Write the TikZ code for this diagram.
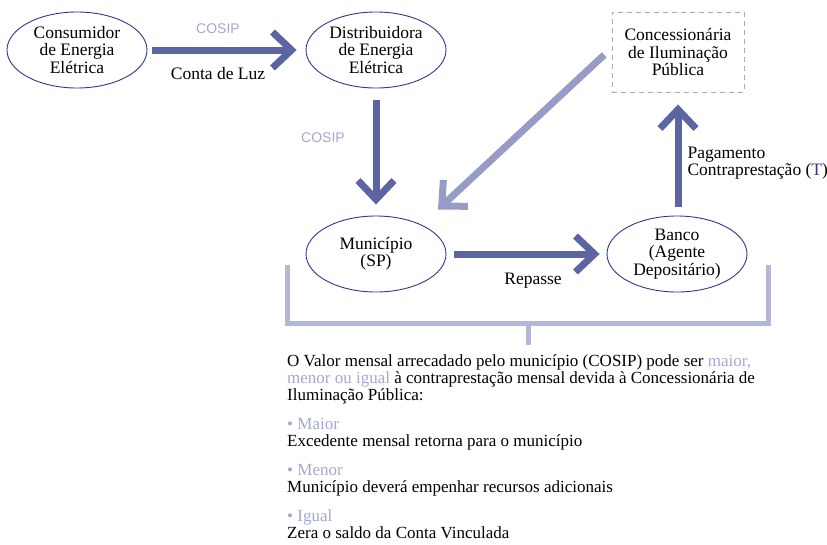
\documentclass[tikz,border=0pt]{standalone}
\usepackage{fontspec}
\setmainfont{Liberation Serif}
\setsansfont{Liberation Sans}
\usepackage{tikz}
\usetikzlibrary{shapes.geometric, arrows.meta, positioning}
\definecolor{darkarrow}{HTML}{5C64A2}
\definecolor{lightarrow}{HTML}{969CC5}
\definecolor{bracketcol}{HTML}{B4B7DA}
\definecolor{lighttext}{HTML}{A3A8D1}
\definecolor{navyline}{HTML}{2B3990}

\begin{document}
\begin{tikzpicture}[
    x=1pt, y=-1pt,
    every node/.style={font=\fontsize{17.5}{17.5}\selectfont},
    agent/.style={ellipse, draw=navyline, line width=0.9pt, minimum width=140pt, minimum height=76pt, inner sep=0pt, align=center},
    dashbox/.style={rectangle, draw=lighttext, line width=0.9pt, dash pattern=on 5pt off 4pt, minimum width=132pt, minimum height=80pt, align=center},
    fatarrow/.style={line width=7pt, draw=darkarrow, -{Straight Barb[length=19pt, width=36pt, line join=miter]}},
    lightfat/.style={fatarrow, draw=lightarrow},
    cosip/.style={font=\sffamily\fontsize{14}{16}\selectfont, text=lighttext},
    bracket/.style={line width=5pt, draw=bracketcol}
]
\useasboundingbox (0,0) rectangle (827,544);

\node (cons) [agent] at (77,50) {Consumidor\\de Energia\\Elétrica};
\node (dist) [agent] at (376,50) {Distribuidora\\de Energia\\Elétrica};
\node (conc) [dashbox] at (678,52) {Concessionária\\de Iluminação\\Pública};
\node (muni) [agent] at (376,254) {Município\\(SP)};
\node (banco) [agent] at (677,254) {Banco\\(Agente\\Depositário)};

\draw [fatarrow, shorten <=5pt, shorten >=9pt] (cons.east) -- (dist.west);
\node [cosip] at (218,29) {COSIP};
\node at (218,74) {Conta de Luz};

\draw [fatarrow, shorten <=12pt, shorten >=11pt] (dist.south) -- (muni.north);
\node [cosip] at (323,138) {COSIP};

\draw [lightfat, shorten <=10pt] ([yshift=4pt]conc.west) -- ([xshift=62pt, yshift=6pt]muni.north);

\draw [fatarrow, shorten <=8pt, shorten >=7pt] (muni.east) -- (banco.west);
\node at (533,281) {Repasse};

\draw [fatarrow, shorten <=9pt, shorten >=12pt] ([xshift=1pt]banco.north) -- (conc.south);
\node [anchor=west, align=left] at (684,163) {Pagamento\\Contraprestação ({\color{navyline}T})};

\draw [bracket] (287,265) -- (287,323) -- (768,323) -- (768,265);
\draw [bracket] (528,323) -- (528,345);

\node (info) [anchor=north west, align=left, inner sep=0pt, font=\fontsize{17}{17}\selectfont] at (287,354) {%
O Valor mensal arrecadado pelo município (COSIP) pode ser {\color{lighttext}maior,}\\
{\color{lighttext}menor ou igual} à contraprestação mensal devida à Concessionária de\\
Iluminação Pública:\\[12pt]
{\color{lighttext}• Maior}\\
Excedente mensal retorna para o município\\[12pt]
{\color{lighttext}• Menor}\\
Município deverá empenhar recursos adicionais\\[12pt]
{\color{lighttext}• Igual}\\
Zera o saldo da Conta Vinculada};
\end{tikzpicture}
\end{document}
